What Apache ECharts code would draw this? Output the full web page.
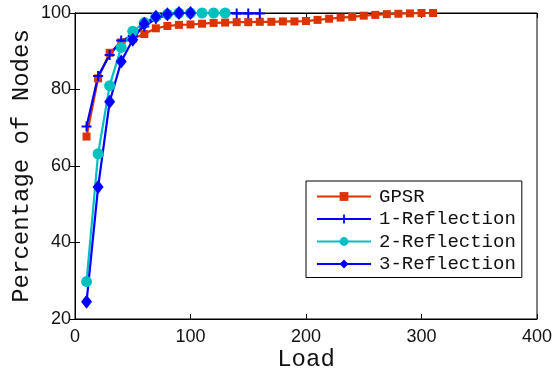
<!DOCTYPE html>
<html>
<head>
<meta charset="utf-8">
<script src="https://cdn.jsdelivr.net/npm/echarts@6/dist/echarts.min.js"></script>
<style>html,body{margin:0;padding:0;background:#fff;}#c{width:553px;height:369px;}</style>
</head>
<body>
<div id="c"></div>
<script>
const gpsrX = [10,20,30,40,50,60,70,80,90,100,110,120,130,140,150,160,170,180,190,200,210,220,230,240,250,260,270,280,290,300,310];
const gpsrY = [67.7,82.9,89.6,92.3,93.3,94.5,96.0,96.6,96.9,97.0,97.2,97.4,97.5,97.6,97.6,97.7,97.7,97.8,97.8,97.9,98.2,98.5,98.8,99.0,99.3,99.5,99.7,99.8,99.9,100,100];
const ref1X = [10,20,30,40,50,60,70,80,90,100,110,120,130,140,150,160];
const ref1Y = [70.3,83.5,89.0,92.8,94.0,96.5,98.5,99.5,100,100,100,100,100,99.9,99.9,99.9];
const ref2X = [10,20,30,40,50,60,70,80,90,100,110,120,130];
const ref2Y = [29.8,63.2,81.0,91.0,95.2,97.5,99.0,99.7,100,100,100,100,100];
const ref3X = [10,20,30,40,50,60,70,80,90,100];
const ref3Y = [24.5,54.5,76.8,87.3,93.0,97.2,99.0,99.7,100,100];
const seriesNames = ['GPSR','1-Reflection','2-Reflection','3-Reflection'];
const xTicks = {min:0,max:400,interval:100};
const yTicks = {min:20,max:100,interval:20};

const zip = (xs, ys) => xs.map((x,i)=>[x, ys[i]]);
const plusPath = 'path://M4,0 H6 V4 H10 V6 H6 V10 H4 V6 H0 V4 H4 Z';
const mono = 'Liberation Mono';
const sans = 'Liberation Sans';

const chart = echarts.init(document.getElementById('c'), null, {renderer:'canvas'});
const tickStyle = {show:true, inside:true, length:5, lineStyle:{color:'#000', width:1}};
chart.setOption({
  animation:false,
  backgroundColor:'#fff',
  grid:{left:75, right:16, top:13, bottom:50, containLabel:false, outerBoundsMode:'none',
        show:true, borderColor:'#000', borderWidth:1, backgroundColor:'#fff'},
  legend:{
    orient:'vertical', left:306, top:181,
    data:seriesNames,
    backgroundColor:'#fff', borderColor:'#000', borderWidth:1,
    padding:[6,6,4,10], itemGap:3.5, itemWidth:54, itemHeight:11,
    textStyle:{fontFamily:mono, fontSize:19, color:'#111', padding:[0,0,0,3]}
  },
  xAxis:[{
    type:'value', min:xTicks.min, max:xTicks.max, interval:xTicks.interval,
    name:'Load', nameLocation:'middle', nameGap:29, nameMoveOverlap:false,
    nameTextStyle:{fontFamily:mono, fontSize:24, color:'#111'},
    axisLine:{show:true, lineStyle:{color:'#000', width:1}},
    axisTick:tickStyle, splitLine:{show:false},
    axisLabel:{fontFamily:sans, fontSize:18, color:'#111', margin:9}
  },{
    type:'value', position:'top', min:xTicks.min, max:xTicks.max, interval:xTicks.interval,
    axisLine:{show:true, lineStyle:{color:'#000'}}, axisTick:tickStyle, axisLabel:{show:false}, splitLine:{show:false}
  }],
  yAxis:[{
    type:'value', min:yTicks.min, max:yTicks.max, interval:yTicks.interval,
    name:'Percentage of Nodes', nameLocation:'middle', nameGap:41, nameMoveOverlap:false,
    nameTextStyle:{fontFamily:mono, fontSize:24, color:'#111'},
    axisLine:{show:true, lineStyle:{color:'#000', width:1}},
    axisTick:tickStyle, splitLine:{show:false},
    axisLabel:{fontFamily:sans, fontSize:18, color:'#111', margin:4}
  },{
    type:'value', position:'right', min:yTicks.min, max:yTicks.max, interval:yTicks.interval,
    axisLine:{show:true, lineStyle:{color:'#000'}}, axisTick:tickStyle, axisLabel:{show:false}, splitLine:{show:false}
  }],
  series:[
    {name:seriesNames[0], type:'line', data:zip(gpsrX,gpsrY), color:'#dd3300',
     symbol:'rect', symbolSize:8, showAllSymbol:true, lineStyle:{width:2.2}},
    {name:seriesNames[1], type:'line', data:zip(ref1X,ref1Y), color:'#0000ff',
     symbol:plusPath, symbolSize:10, showAllSymbol:true, lineStyle:{width:2.2}},
    {name:seriesNames[2], type:'line', data:zip(ref2X,ref2Y), color:'#00bfbf',
     symbol:'circle', symbolSize:11, showAllSymbol:true, lineStyle:{width:2.2}},
    {name:seriesNames[3], type:'line', data:zip(ref3X,ref3Y), color:'#0000ff',
     symbol:'diamond', symbolSize:[11,14], showAllSymbol:true, lineStyle:{width:2.2}}
  ]
});
</script>
</body>
</html>
